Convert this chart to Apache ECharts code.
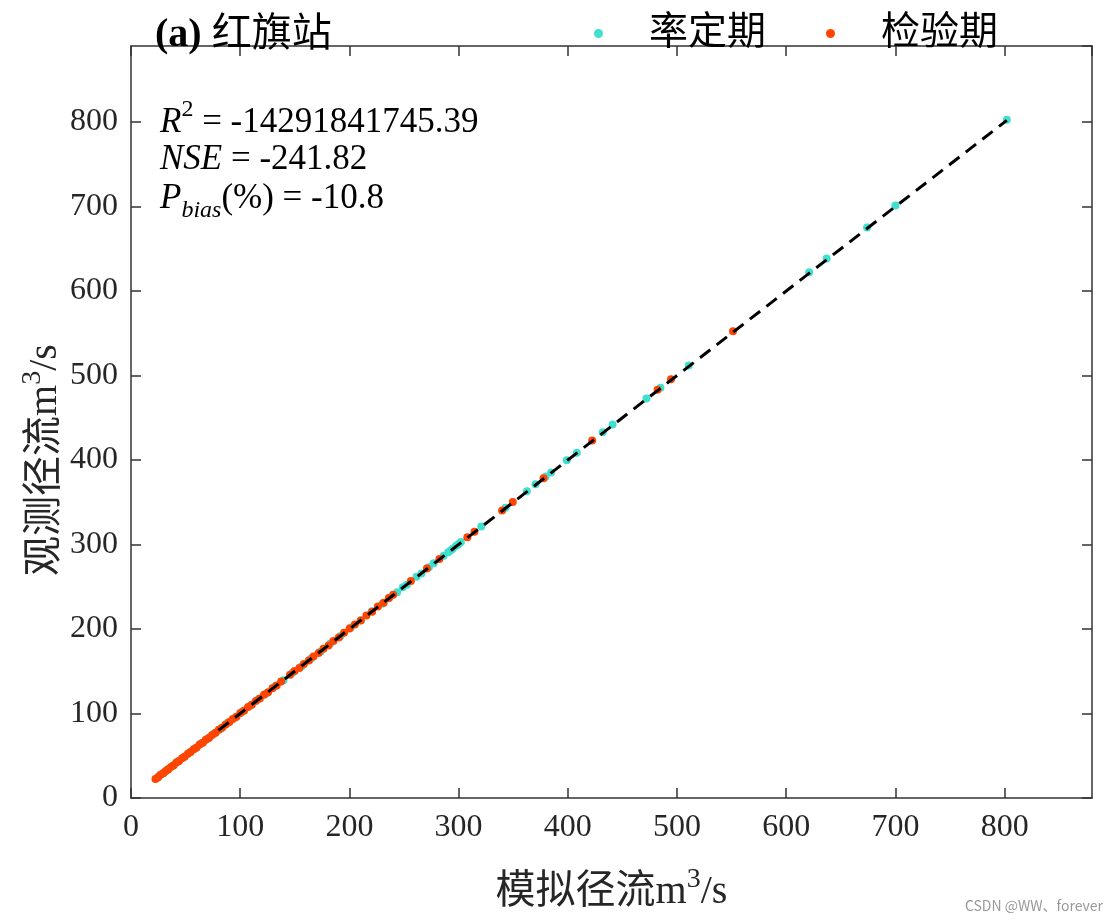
<!DOCTYPE html>
<html>
<head>
<meta charset="utf-8">
<script src="https://cdn.jsdelivr.net/npm/echarts@6/dist/echarts.min.js"></script>
<style>html,body{margin:0;padding:0;background:#fff}#c{width:1119px;height:921px}</style>
</head>
<body>
<div id="c"></div>
<script>
// ---- data (simulated x, observed y) ----
const calName = '率定期';
const valName = '检验期';
const calSim = [25.5, 29.8, 33.6, 38.2, 43.1, 48.5, 53.9, 59.2, 64.7, 70.3, 76.1, 82.4, 88.9, 95.3, 102.0, 109.4, 116.8, 124.1, 132.0, 139.6, 147.9, 156.3, 164.8, 173.5, 182.6, 191.9, 201.3, 210.8, 220.5, 230.1, 236.0, 243.7, 248.9, 252.6, 261.5, 266.0, 272.8, 277.2, 286.3, 290.5, 292.9, 294.8, 297.6, 299.3, 300.4, 302.1, 320.7, 343.0, 362.5, 370.4, 379.6, 384.7, 399.0, 408.2, 432.0, 441.0, 472.0, 484.8, 510.7, 621.0, 637.0, 674.0, 700.0, 802.0];
const calObs = [25.8, 29.6, 33.9, 38.0, 43.4, 48.3, 54.2, 59.0, 65.1, 70.0, 76.4, 82.1, 89.3, 95.0, 102.4, 109.1, 117.2, 123.8, 132.4, 139.3, 148.3, 156.0, 165.2, 173.2, 183.0, 191.6, 201.7, 210.5, 220.9, 229.8, 236.4, 243.4, 249.3, 252.3, 261.9, 265.7, 273.2, 277.9, 286.7, 290.9, 293.3, 295.2, 298.1, 299.8, 301.0, 302.9, 321.2, 343.6, 363.1, 371.2, 380.1, 385.2, 399.7, 408.7, 432.8, 441.9, 472.7, 485.6, 511.8, 622.3, 638.4, 675.2, 701.1, 802.8];
const valSim = [22.4, 24.6, 27.1, 29.5, 31.8, 34.0, 36.5, 39.1, 41.6, 44.0, 46.8, 49.3, 52.1, 54.6, 57.4, 60.1, 62.9, 65.8, 68.5, 71.6, 74.3, 77.5, 80.4, 83.6, 86.7, 90.1, 93.2, 96.6, 100.1, 103.5, 107.2, 110.6, 114.3, 118.0, 121.8, 125.5, 129.6, 133.4, 137.5, 145.6, 149.8, 154.2, 158.3, 162.9, 167.1, 171.8, 176.2, 180.9, 185.4, 190.3, 195.1, 200.2, 205.0, 210.3, 215.6, 220.8, 226.1, 231.4, 236.2, 240.1, 256.3, 271.0, 282.4, 308.0, 314.5, 339.8, 349.6, 377.8, 422.3, 482.2, 494.5, 551.3];
const valObs = [22.6, 24.3, 27.4, 29.2, 32.1, 33.8, 36.8, 38.9, 41.9, 43.7, 47.1, 49.0, 52.4, 54.3, 57.8, 59.8, 63.3, 65.5, 68.9, 71.3, 74.7, 77.2, 80.9, 83.3, 87.1, 89.8, 93.6, 96.3, 100.5, 103.2, 107.6, 110.3, 114.7, 117.7, 122.2, 125.2, 130.0, 133.1, 137.9, 145.9, 150.2, 153.9, 158.7, 162.6, 167.5, 171.5, 176.6, 180.6, 185.8, 190.0, 195.5, 200.6, 205.4, 210.0, 215.9, 220.5, 226.5, 231.1, 236.6, 240.5, 256.8, 271.6, 282.9, 308.5, 315.1, 340.4, 350.2, 378.5, 423.0, 483.1, 495.6, 552.4];
const refLine = [80, 802];          // 1:1 reference line extent
const xMax = 880, yMax = 890, tickStep = 100;
const statR2 = '-14291841745.39';
const statNSE = '-241.82';
const statPbias = '-10.8';
const titleParts = ['(a)', ' 红旗站'];
const xName = ['模拟径流m', '3', '/s'];
const yName = ['观测径流m', '3', '/s'];

const pair = (a, b) => a.map((v, i) => [v, b[i]]);

const FONT = '"Liberation Serif", "Noto Sans CJK SC", serif';
const AX = '#333333';
const chart = echarts.init(document.getElementById('c'));

function axisCommon(extra) {
  return Object.assign({
    type: 'value', min: 0, interval: tickStep,
    splitLine: { show: false },
    axisLine: { show: true, onZero: false, lineStyle: { color: AX, width: 1.5 } },
    axisTick: { show: true, inside: true, length: 10, lineStyle: { color: AX, width: 1.5 } }
  }, extra);
}
const richName = {
  a: { fontFamily: FONT, fontSize: 40, color: '#262626', lineHeight: 46, verticalAlign: 'bottom' },
  s: { fontFamily: FONT, fontSize: 28, color: '#262626', lineHeight: 26, verticalAlign: 'top' }
};

chart.setOption({
  animation: false,
  backgroundColor: '#fff',
  grid: { left: 131, top: 46, right: 27, bottom: 123, containLabel: false },
  title: {
    text: '{b|' + titleParts[0] + '}{c|' + titleParts[1] + '}', left: 150, top: 11,
    textStyle: { rich: {
      b: { fontFamily: FONT, fontSize: 40, fontWeight: 'bold', color: '#000' },
      c: { fontFamily: FONT, fontSize: 40, fontWeight: 'normal', color: '#000' }
    } }
  },
  legend: {
    data: [calName, valName], left: 589, top: 9, icon: 'circle',
    itemWidth: 9, itemHeight: 9, itemGap: 60,
    textStyle: { fontFamily: FONT, fontSize: 39, color: '#000', padding: [0, 0, 0, 41] }
  },
  xAxis: [
    axisCommon({ max: xMax, position: 'bottom',
      name: '{a|' + xName[0] + '}{s|' + xName[1] + '}{a|' + xName[2] + '}',
      nameLocation: 'middle', nameGap: 68, nameMoveOverlap: false, nameTextStyle: { rich: richName },
      axisLabel: { showMaxLabel: false, margin: 14, fontFamily: FONT, fontSize: 32, color: '#262626' } }),
    axisCommon({ max: xMax, position: 'top', axisLabel: { show: false } })
  ],
  yAxis: [
    axisCommon({ max: yMax, position: 'left',
      name: '{a|' + yName[0] + '}{s|' + yName[1] + '}{a|' + yName[2] + '}',
      nameLocation: 'middle', nameGap: 66, nameMoveOverlap: false,
      nameTextStyle: { rich: richName, padding: [0, 76, 0, 0] },
      axisLabel: { showMaxLabel: false, margin: 13, fontFamily: FONT, fontSize: 32, color: '#262626' } }),
    axisCommon({ max: yMax, position: 'right', axisLabel: { show: false } })
  ],
  series: [
    { name: calName, type: 'scatter', xAxisIndex: 0, yAxisIndex: 0, data: pair(calSim, calObs),
      symbol: 'circle', symbolSize: 8, itemStyle: { color: '#40E0D0', opacity: 1 }, z: 2 },
    { name: valName, type: 'scatter', xAxisIndex: 0, yAxisIndex: 0, data: pair(valSim, valObs),
      symbol: 'circle', symbolSize: 8, itemStyle: { color: '#FF4500', opacity: 1 }, z: 3 },
    { name: '1:1', type: 'line', xAxisIndex: 0, yAxisIndex: 0,
      data: [[refLine[0], refLine[0]], [refLine[1], refLine[1]]],
      symbol: 'none', silent: true, z: 4,
      lineStyle: { color: '#000', width: 3, type: [13, 8] } }
  ],
  graphic: [
    { type: 'text', left: 160, top: 98, z: 10, style: {
      text: '{i|R}{s|2}{n| = ' + statR2 + '}',
      rich: {
        i: { fontFamily: FONT, fontSize: 35, fontStyle: 'italic', lineHeight: 42, verticalAlign: 'bottom', fill: '#000' },
        s: { fontFamily: FONT, fontSize: 24, lineHeight: 22, verticalAlign: 'top', fill: '#000' },
        n: { fontFamily: FONT, fontSize: 35, lineHeight: 42, verticalAlign: 'bottom', fill: '#000' }
      } } },
    { type: 'text', left: 160, top: 142, z: 10, style: {
      text: '{i|NSE}{n| = ' + statNSE + '}',
      rich: {
        i: { fontFamily: FONT, fontSize: 35, fontStyle: 'italic', lineHeight: 42, fill: '#000' },
        n: { fontFamily: FONT, fontSize: 35, lineHeight: 42, fill: '#000' }
      } } },
    { type: 'text', left: 160, top: 181, z: 10, style: {
      text: '{i|P}{b|bias}{n|(%) = ' + statPbias + '}',
      rich: {
        i: { fontFamily: FONT, fontSize: 35, fontStyle: 'italic', lineHeight: 42, verticalAlign: 'top', fill: '#000' },
        b: { fontFamily: FONT, fontSize: 24, fontStyle: 'italic', lineHeight: 22, verticalAlign: 'bottom', fill: '#000' },
        n: { fontFamily: FONT, fontSize: 35, lineHeight: 42, verticalAlign: 'top', fill: '#000' }
      } } },
    { type: 'text', right: 16, bottom: 8, z: 10, style: {
      text: 'CSDN @WW、forever', fontFamily: '"Noto Sans CJK SC", sans-serif', fontSize: 14, fill: '#999' } }
  ]
});
</script>
</body>
</html>
